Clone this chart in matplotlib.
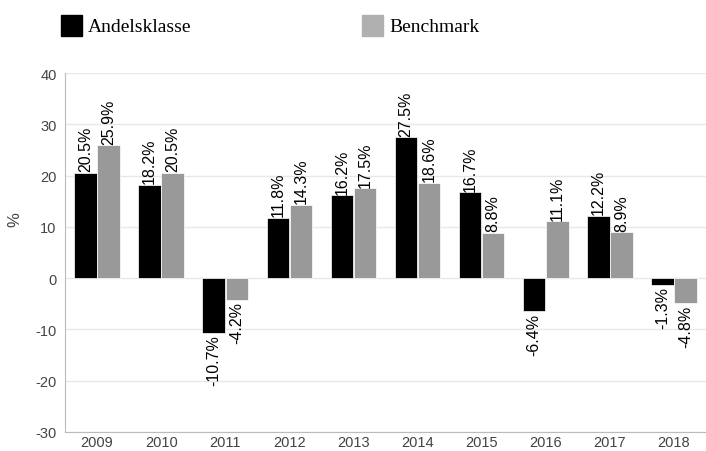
import matplotlib
matplotlib.use("Agg")
import matplotlib.pyplot as plt
from matplotlib.patches import Rectangle
import numpy as np

years = ["2009", "2010", "2011", "2012", "2013", "2014", "2015", "2016", "2017", "2018"]
andelsklasse = [20.5, 18.2, -10.7, 11.8, 16.2, 27.5, 16.7, -6.4, 12.2, -1.3]
benchmark = [25.9, 20.5, -4.2, 14.3, 17.5, 18.6, 8.8, 11.1, 8.9, -4.8]
series_names = ["Andelsklasse", "Benchmark"]

plt.rcParams["font.family"] = ["Liberation Sans", "DejaVu Sans"]
plt.rcParams["axes.unicode_minus"] = False

fig = plt.figure(figsize=(7.06, 4.52), dpi=100)
ax = fig.add_axes([65 / 706, 1 - 433 / 452, 641 / 706, 359 / 452])

x = np.arange(len(years))
w = 0.35
colors = ["#000000", "#999999"]
for k, vals in enumerate([andelsklasse, benchmark]):
    pos = x - w / 2 - 0.005 + k * (w + 0.01)
    ax.bar(pos, vals, width=w, color=colors[k], edgecolor="white", linewidth=0.5, zorder=3)
    for xi, v in zip(pos, vals):
        if v >= 0:
            ax.text(xi, v + 0.3, f"{v:.1f}%", rotation=90, ha="center", va="bottom",
                    fontsize=11.5, color="#000000", zorder=4)
        else:
            ax.text(xi, v - 0.3, f"{v:.1f}%", rotation=90, ha="center", va="top",
                    fontsize=11.5, color="#000000", zorder=4)

ax.set_xlim(-0.5, len(years) - 0.5)
ax.set_ylim(-30, 40)
ax.set_yticks(range(-30, 41, 10))
ax.set_xticks(x)
ax.set_xticklabels(years)
ax.tick_params(length=0, labelsize=10.5, colors="#444444")
ax.tick_params(axis="x", pad=2)
ax.tick_params(axis="y", pad=6)
ax.grid(axis="y", color="#e8e8e8", linewidth=1, zorder=0)
for s in ["top", "right"]:
    ax.spines[s].set_visible(False)
for s in ["left", "bottom"]:
    ax.spines[s].set_color("#bbbbbb")
fig.text(15 / 706, 1 - 220 / 452, "%", rotation=90, ha="center", va="center",
         fontsize=12, color="#444444")

# legend at top
leg_x = [61, 362]
leg_colors = ["#000000", "#b0b0b0"]
for lx, c, name in zip(leg_x, leg_colors, series_names):
    fig.add_artist(Rectangle((lx / 706, 1 - 37 / 452), 21 / 706, 21 / 452,
                             transform=fig.transFigure, color=c))
    fig.text((lx + 27) / 706, 1 - 27 / 452, name, ha="left", va="center",
             fontsize=14, family=["Liberation Serif", "DejaVu Serif"], color="#000000")

fig.savefig("out.png", dpi=100)
